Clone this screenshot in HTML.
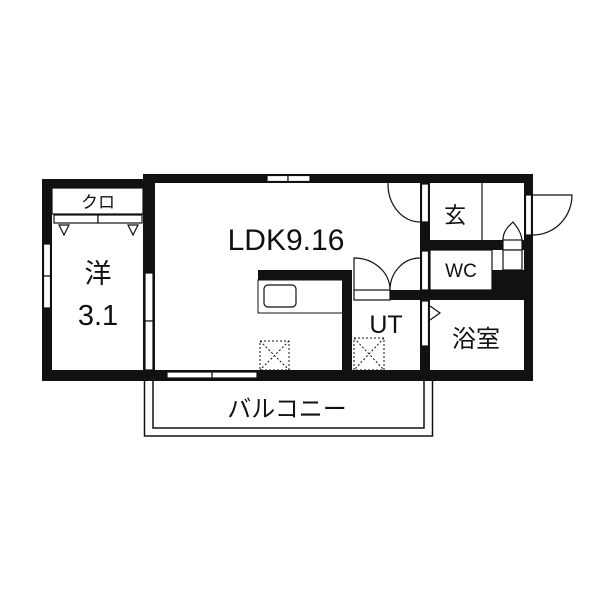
<!DOCTYPE html><html><head><meta charset="utf-8"><style>body{margin:0;background:#fff}svg{display:block}text{font-family:"Liberation Sans","Noto Sans CJK JP",sans-serif;fill:#111}</style></head><body>
<svg width="600" height="600" viewBox="0 0 600 600" xmlns="http://www.w3.org/2000/svg">
<rect width="600" height="600" fill="#fff"/>
<rect x="144.5" y="378" width="288" height="58" fill="none" stroke="#111" stroke-width="1.5"/>
<rect x="153" y="378" width="271" height="50" fill="none" stroke="#111" stroke-width="1.5"/>
<g fill="#111">
<rect x="42" y="179" width="110" height="9"/>
<rect x="42" y="179" width="10" height="202"/>
<rect x="42" y="370" width="491" height="11"/>
<rect x="143" y="174" width="390" height="9"/>
<rect x="143" y="174" width="12" height="99"/>
<rect x="143" y="273" width="12" height="108"/>
<rect x="524" y="174" width="9" height="207"/>
<rect x="420" y="183" width="10" height="198"/>
<rect x="420" y="240" width="104" height="10"/>
<rect x="390" y="290" width="134" height="10"/>
<rect x="492" y="270" width="32" height="30"/>
<rect x="342" y="270" width="10" height="100"/>
<rect x="258" y="270" width="92" height="10"/>
</g>
<g fill="#fff" stroke="#111" stroke-width="1.2">
<rect x="267" y="175.5" width="21" height="6"/><rect x="288" y="175.5" width="22" height="6"/>
<rect x="43.5" y="244" width="7" height="32"/><rect x="43.5" y="276" width="7" height="32"/>
<rect x="145" y="273" width="8" height="48"/><rect x="145" y="321" width="8" height="49"/>
<rect x="167" y="372" width="45" height="6"/><rect x="212" y="372" width="45" height="6"/>
<rect x="421.5" y="184" width="7" height="38"/>
<rect x="421.5" y="251" width="7" height="39"/>
<rect x="421.5" y="301" width="7" height="45"/>
<rect x="525.5" y="195" width="6" height="40"/>
<rect x="354" y="290" width="36" height="10"/>
<rect x="54" y="215" width="44" height="8"/><rect x="98" y="215" width="44" height="8"/>
<rect x="503" y="240" width="19" height="10"/>
<rect x="503" y="250" width="19" height="20"/>
</g>
<g fill="none" stroke="#111" stroke-width="1.2">
<rect x="52" y="188" width="91" height="26"/>
<path d="M59 225 L64 235 L69 225 Z M128 225 L133 235 L138 225 Z"/>
<line x1="482" y1="183" x2="482" y2="240"/>
<rect x="430" y="250" width="62" height="40"/>
<rect x="258" y="280" width="92" height="33" stroke-width="1"/>
<rect x="264" y="285" width="32" height="22" rx="4"/>
<path d="M388 183 A32 38 0 0 0 420 222"/>
<path d="M354 290 V258 A36 32 0 0 1 390 290"/>
<path d="M420 258 A30 32 0 0 0 390 290"/>
<path d="M533 195 H572 A39 40 0 0 1 533 235"/>
<path d="M503 240 C503 230 510 225 513 222 C517 227 521 232 522 240"/>
<path d="M430 306 L440 313 L430 320"/>
</g>
<g fill="none" stroke="#111" stroke-width="1" stroke-dasharray="2 2">
<rect x="260" y="341" width="29" height="29"/><path d="M260 341 L289 370 M289 341 L260 370"/>
<rect x="354" y="338" width="30" height="32"/><path d="M354 338 L384 370 M384 338 L354 370"/>
</g>
<g text-anchor="middle">
<text x="98" y="208" font-size="17">クロ</text>
<text x="98" y="283" font-size="27">洋</text>
<text x="98" y="325" font-size="29">3.1</text>
<text x="286" y="250" font-size="30">LDK9.16</text>
<text x="455" y="223" font-size="22">玄</text>
<text x="461" y="277" font-size="19">WC</text>
<text x="386" y="333" font-size="25">UT</text>
<text x="476" y="347" font-size="24">浴室</text>
<text x="287" y="417" font-size="24">バルコニー</text>
</g>
</svg></body></html>
